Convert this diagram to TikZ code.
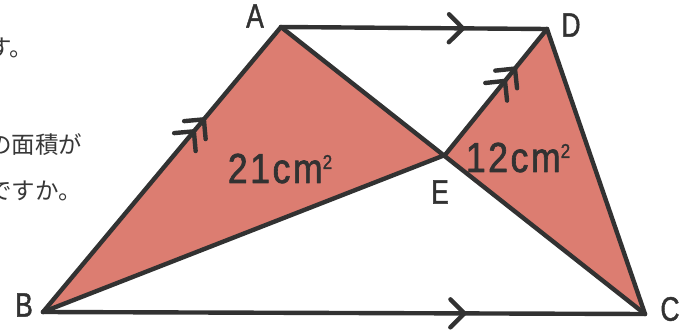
\documentclass[tikz,border=0pt]{standalone}
\usepackage{fontspec}
\setmainfont{Liberation Sans}
\newfontfamily\lblfont[FakeStretch=0.78,FakeBold=1.2]{Liberation Sans}
\newfontfamily\areafont[FakeStretch=0.85,FakeBold=1.5,LetterSpace=6]{Liberation Sans}
\newfontfamily\jpfont{Noto Sans CJK JP}
\usetikzlibrary{decorations.markings}
\definecolor{inkc}{RGB}{50,50,50}
\definecolor{areac}{RGB}{220,125,113}
\definecolor{textc}{RGB}{55,55,55}

\begin{document}
\begin{tikzpicture}[x=1pt,y=-1pt,line cap=round,line join=round,
  side/.style={draw=inkc,line width=4.4pt},
  chevron/.style={postaction={decorate,decoration={markings,
    mark=at position #1 with {\draw[side] (-14pt,14pt) -- (0pt,0pt) -- (-14pt,-14pt);}}}},
  twochevron/.style 2 args={postaction={decorate,decoration={markings,
    mark=at position #1 with {\draw[side] (-14pt,14pt) -- (0pt,0pt) -- (-14pt,-14pt);},
    mark=at position #2 with {\draw[side] (-14pt,14pt) -- (0pt,0pt) -- (-14pt,-14pt);}}}},
  vlabel/.style={font=\lblfont\fontsize{34}{34}\selectfont,text=inkc,inner sep=0pt},
  arealabel/.style={font=\areafont\fontsize{42}{42}\selectfont,text=inkc,inner sep=0pt,anchor=base},
  jptext/.style={font=\jpfont\fontsize{23.5}{23.5}\selectfont,text=textc,inner sep=0pt,anchor=west}]
\useasboundingbox (0,0) rectangle (691,331);
\coordinate (A) at (281,27);
\coordinate (B) at (43,312);
\coordinate (C) at (645,314);
\coordinate (D) at (547,29);
\coordinate (E) at (445,155);
% shaded triangles
\fill[areac] (A) -- (B) -- (E) -- cycle;
\fill[areac] (E) -- (D) -- (C) -- cycle;
% sides
\draw[side,chevron=0.684] (A) -- (D);
\draw[side,chevron=0.70] (B) -- (C);
\draw[side,twochevron={0.634}{0.676}] (B) -- (A);
\draw[side,twochevron={0.588}{0.686}] (E) -- (D);
\draw[side] (A) -- (C);
\draw[side] (B) -- (E);
\draw[side] (D) -- (C);
% labels
\node[vlabel] (lA) at (255,16) {A};
\node[vlabel] (lB) at (24,305) {B};
\node[vlabel] (lC) at (670,309) {C};
\node[vlabel] (lD) at (571,25) {D};
\node[vlabel] (lE) at (440,192) {E};
\node[arealabel] (area1) at (280,183) {21cm{\fontsize{20}{20}\selectfont\raisebox{14pt}{2}}};
\node[arealabel] (area2) at (518,172) {12cm{\fontsize{20}{20}\selectfont\raisebox{14pt}{2}}};
% cut-off question text
\node[jptext] (q1) at (-12,48) {す。};
\node[jptext] (q2) at (-12,145) {の面積が};
\node[jptext] (q3) at (-12,191) {ですか。};
\end{tikzpicture}
\end{document}
